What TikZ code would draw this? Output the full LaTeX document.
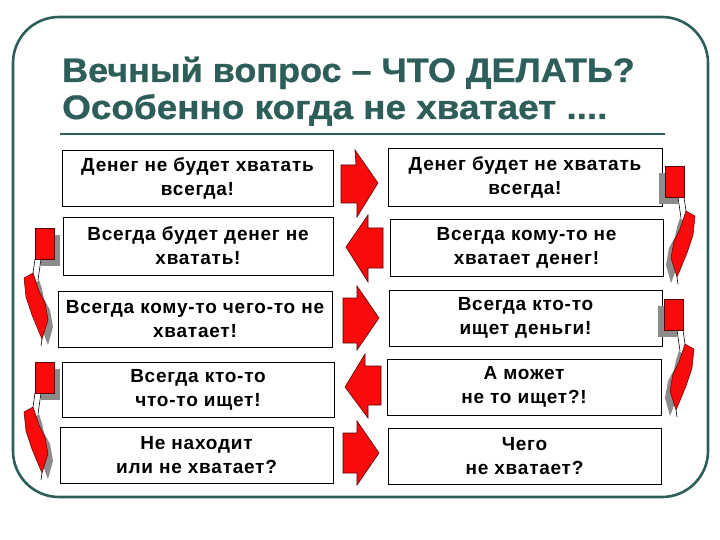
\documentclass[tikz,border=0pt]{standalone}
\usepackage{fontspec}
\usepackage{graphicx}
\setmainfont{Liberation Sans}
\newfontfamily\boxfont[LetterSpace=4.0]{Liberation Sans}
\newfontfamily\titlefont[BoldFeatures={FakeBold=0.8}]{Liberation Sans}
\usetikzlibrary{calc}
\definecolor{teal1}{RGB}{46,94,90}
\definecolor{flagred}{RGB}{250,10,10}
\definecolor{edgered}{RGB}{90,0,0}
\definecolor{shadowgray}{RGB}{140,140,140}
\tikzset{
  box/.style={draw=black, line width=0.8pt, fill=white, inner sep=0pt, align=center,
    font=\boxfont\fontsize{19}{24}\selectfont\bfseries},
  blockarrow/.style={fill=flagred, draw=edgered, line width=0.6pt, line join=miter},
  flagpart/.style={fill=flagred, draw=edgered, line width=0.5pt},
  titletext/.style={anchor=base west, inner sep=0pt, text=teal1, font=\titlefont\fontsize{34}{37}\selectfont\bfseries},
  pflag/.pic={
    \fill[shadowgray] (6,7) rectangle (25,38);
    \fill[shadowgray] (4,52) -- (-4,58) -- (-1,76) -- (4,92) -- (11,112) -- (13,117) -- (18,99) -- (15,82) -- (9,71) -- (7,61) -- cycle;
    \fill[white] (0,31) -- (6,31) -- (3,52) -- (-2,45) -- cycle;
    \draw[black, line width=0.6pt] (0,31) -- (-2,45);
    \draw[black, line width=0.6pt] (6,31) -- (3,52);
    \filldraw[flagpart] (0,0) rectangle (19,31);
    \filldraw[flagpart] (-2,45) -- (-11,50) -- (-9,69) -- (-3,87) -- (4,104) -- (7,111) -- (13,92) -- (10,75) -- (4,63) -- (1,54) -- cycle;
    \draw[black, line width=0.6pt] (7,111) -- (6,118);
  }
}
\begin{document}
\begin{tikzpicture}[x=1pt, y=-1pt]
\useasboundingbox (0,0) rectangle (720,540);
\fill[white] (0,0) rectangle (720,540);
% frame
\draw[teal1, line width=2.6pt, rounded corners=46pt] (13,17) rectangle (708,497);
% title
\node[titletext] (t1) at (62,82) {\scalebox{1.058}[1]{Вечный вопрос – ЧТО ДЕЛАТЬ?}};
\node[titletext] (t2) at (62,119) {\scalebox{1.085}[1]{Особенно когда не хватает ....}};
\coordinate (ulA) at (60,134);
\coordinate (ulB) at (665,134);
\draw[teal1, line width=2.6pt] (ulA) -- (ulB);
% boxes left
\node[box, minimum width=271pt, minimum height=56pt] (l1) at (197.5,178) {Денег не будет хватать\\всегда!};
\node[box, minimum width=270pt, minimum height=58pt] (l2) at (198,246) {Всегда будет денег не\\хватать!};
\node[box, minimum width=274pt, minimum height=56pt] (l3) at (195,319) {Всегда кому-то чего-то не\\хватает!};
\node[box, minimum width=272pt, minimum height=55pt] (l4) at (198,389.5) {Всегда кто-то\\что-то ищет!};
\node[box, minimum width=273pt, minimum height=56pt] (l5) at (196.5,455) {Не находит\\или не хватает?};
% boxes right
\node[box, minimum width=274pt, minimum height=58pt] (r1) at (525,177) {Денег будет не хватать\\всегда!};
\node[box, minimum width=273pt, minimum height=57pt] (r2) at (526.5,247.5) {Всегда кому-то не\\хватает денег!};
\node[box, minimum width=273pt, minimum height=56pt] (r3) at (525.5,318) {Всегда кто-то\\ищет деньги!};
\node[box, minimum width=274pt, minimum height=56pt] (r4) at (524,387) {А может\\не то ищет?!};
\node[box, minimum width=273pt, minimum height=56pt] (r5) at (524.5,456) {Чего\\не хватает?};
% block arrows
\draw[blockarrow] (341,165) -- (356,165) -- (355,150) -- (378,183) -- (357,217) -- (357,203) -- (341,203) -- cycle;
\draw[blockarrow] (383,228) -- (368,228) -- (368,215) -- (346,247) -- (368,282) -- (368,268) -- (383,268) -- cycle;
\draw[blockarrow] (343,298) -- (357,298) -- (357,286) -- (379,318) -- (357,350) -- (357,343) -- (343,343) -- cycle;
\draw[blockarrow] (381,366) -- (365,366) -- (365,354) -- (345,387) -- (368,418) -- (368,405) -- (381,405) -- cycle;
\draw[blockarrow] (343,433) -- (357,433) -- (357,421) -- (379,453) -- (357,485) -- (357,473) -- (343,473) -- cycle;
% flags
\pic at (35,228) {pflag};
\pic at (35,362) {pflag};
\pic[xscale=-1] at (684,166) {pflag};
\pic[xscale=-1] at (683,299) {pflag};
\end{tikzpicture}
\end{document}
